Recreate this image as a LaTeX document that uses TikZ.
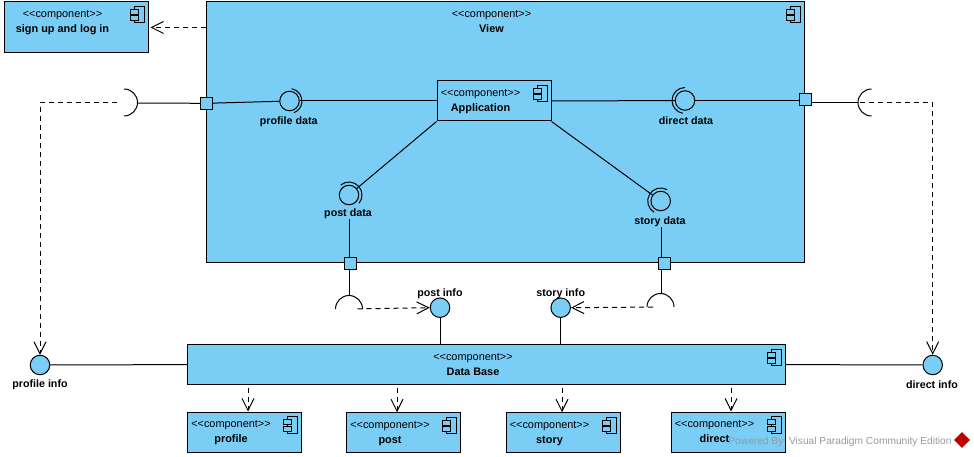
\documentclass[tikz,border=0pt]{standalone}
\usepackage{fontspec}
\setmainfont{Liberation Sans}
\usetikzlibrary{arrows.meta}
\usetikzlibrary{shapes.geometric}

\definecolor{compblue}{RGB}{122,206,245}
\tikzset{
  compbody/.style={draw,fill=compblue,line width=1pt,inner sep=0pt},
  comptext/.style={anchor=north,align=center,inner sep=0pt,font=\fontsize{10.9}{15}\selectfont},
  portbox/.style={draw,fill=compblue,line width=1pt,minimum size=12pt,inner sep=0pt},
  ball/.style={draw,fill=compblue,circle,line width=1pt,minimum size=19.5pt,inner sep=0pt},
  socket/.style={circle,minimum size=27pt,inner sep=0pt},
  caption/.style={inner sep=0pt,yshift=-2pt,font=\fontsize{10.7}{12}\selectfont\bfseries},
  depend/.style={dashed,dash pattern=on 5pt off 4pt,-{Straight Barb[length=12pt,width=12pt]}},
  pics/compicon/.style={code={
    \draw[line width=1pt] (-14.5,5) rectangle (-4.5,21.5);
    \draw[line width=1pt,fill=compblue] (-18.5,8) rectangle (-10.5,13);
    \draw[line width=1pt,fill=compblue] (-18.5,14.5) rectangle (-10.5,19.5);
  }}
}
\newcommand{\compnode}[6]{%
  \node[compbody,minimum width=#4pt,minimum height=#5pt] (#1) at (#2,#3) {};
  \pic at (#1.north east) {compicon};
  \node[comptext] (#1text) at ([xshift=-13.5pt,yshift=-8.5pt]#1.north) {<{}<component>{}>\\\textbf{#6}};
}

\begin{document}
\begin{tikzpicture}
[x=1pt,y=-1pt,line width=1pt,line join=miter]
\useasboundingbox (0,0) rectangle (974,457);
\compnode{signup}{76}{27.5}{144}{51}{sign up and log in}
\compnode{view}{505}{132}{598}{260}{View}
\compnode{database}{486.5}{364.6}{597.5}{39.5}{Data Base}
\compnode{profile}{244.5}{432}{113.5}{40}{profile}
\compnode{post}{403.5}{432.5}{113.5}{39.5}{post}
\compnode{story}{563}{432.5}{114}{39.5}{story}
\compnode{direct}{728}{432}{114}{40}{direct}
\compnode{application}{494}{101}{114}{40}{Application}

\node[ball] (profiledata) at (289.5,101) {};
\node[ball] (directdata) at (685,100.5) {};
\node[ball] (postdata) at (349,195) {};
\node[ball] (storydata) at (660.7,201) {};
\node[caption] (profiledatatext) at (288.7,120) {profile data};
\node[caption] (directdatatext) at (686,119) {direct data};
\node[caption] (postdatatext) at (348,212) {post data};
\node[caption] (storydatatext) at (660,220) {story data};

\node[portbox] (portl) at (206.7,103.3) {};
\node[portbox] (portr) at (805.5,99.3) {};
\node[portbox] (portp) at (350.3,263.3) {};
\node[portbox] (portt) at (664.3,263.3) {};

\node[socket] (sockl) at (124,103) {};
\node[socket] (sockr) at (871.5,103) {};
\node[socket] (sockp) at (349.5,309) {};
\node[socket] (sockt) at (661,307) {};

\node[ball] (profileinfo) at (40,365) {};
\node[ball] (directinfo) at (932.7,365) {};
\node[ball] (postinfo) at (440,307.7) {};
\node[ball] (storyinfo) at (560.7,307.7) {};
\node[caption] (profileinfotext) at (40,383) {profile info};
\node[caption] (directinfotext) at (932,383) {direct info};
\node[caption] (postinfotext) at (440,291.7) {post info};
\node[caption] (storyinfotext) at (560.7,291.7) {story info};

\draw ([shift={(80:12.5pt)}]profiledata.center) arc[start angle=80,end angle=-70,radius=12.5pt];
\draw ([shift={(90:13pt)}]directdata.center) arc[start angle=90,end angle=260,radius=13pt];
\draw ([shift={(130:13pt)}]postdata.center) arc[start angle=130,end angle=-40,radius=13pt];
\draw ([shift={(60:13pt)}]storydata.center) arc[start angle=60,end angle=240,radius=13pt];

\draw (sockl.north) arc[start angle=90,end angle=-90,radius=13.5pt];
\draw (sockr.north) arc[start angle=90,end angle=270,radius=13.5pt];
\draw (sockp.west) arc[start angle=180,end angle=0,radius=13.5pt];
\draw (sockt.west) arc[start angle=180,end angle=0,radius=13.5pt];

\draw (application.west) -- (profiledata);
\draw (application.east) -- (directdata);
\draw (application.south west) -- (postdata);
\draw (application.south east) -- (storydata);
\draw (portl) -- (profiledata);
\draw (directdata) -- (portr.west |- directdata);
\draw (postdatatext.south -| sockp) -- (sockp |- portp.north);
\draw (storydatatext.south -| sockt) -- (sockt |- portt.north);
\draw (portl.west) -- (sockl.east);
\draw (portr.east |- sockr) -- (sockr.west);
\draw (sockp |- portp.south) -- (sockp.north);
\draw (sockt.north) -- (sockt |- portt.south);
\draw (profileinfo) -- (database.west);
\draw (database.east) -- (directinfo);
\draw (postinfo.south) -- (postinfo |- database.north);
\draw (storyinfo.south) -- (storyinfo |- database.north);

\draw[depend,shorten >=2pt] (view.west |- signup) -- (signup.east);
\draw[depend,shorten <=7pt] (sockl.center) -| (profileinfo.north);
\draw[depend,shorten <=2pt] (sockr.west) -| (directinfo.north);
\draw[depend,shorten <=8pt] (sockp.center) -- (postinfo.west);
\draw[depend,shorten <=8pt] (sockt.center) -- (storyinfo.east);
\draw[depend,shorten <=3pt] ([xshift=3.5pt]profile.north |- database.south) -- ([xshift=3.5pt]profile.north);
\draw[depend,shorten <=3pt] ([xshift=-6.5pt]post.north |- database.south) -- ([xshift=-6.5pt]post.north);
\draw[depend,shorten <=3pt] ([xshift=-1pt]story.north |- database.south) -- ([xshift=-1pt]story.north);
\draw[depend,shorten <=3pt] ([xshift=3pt]direct.north |- database.south) -- ([xshift=3pt]direct.north);

\node[inner sep=0pt,text=black!40,font=\fontsize{10.2}{12}\selectfont] (powered) at (840,442) {Powered By\ \ Visual Paradigm Community Edition};
\node[fill=red!75!black,diamond,inner sep=4pt] (logo) at (962,440) {};
\end{tikzpicture}
\end{document}
